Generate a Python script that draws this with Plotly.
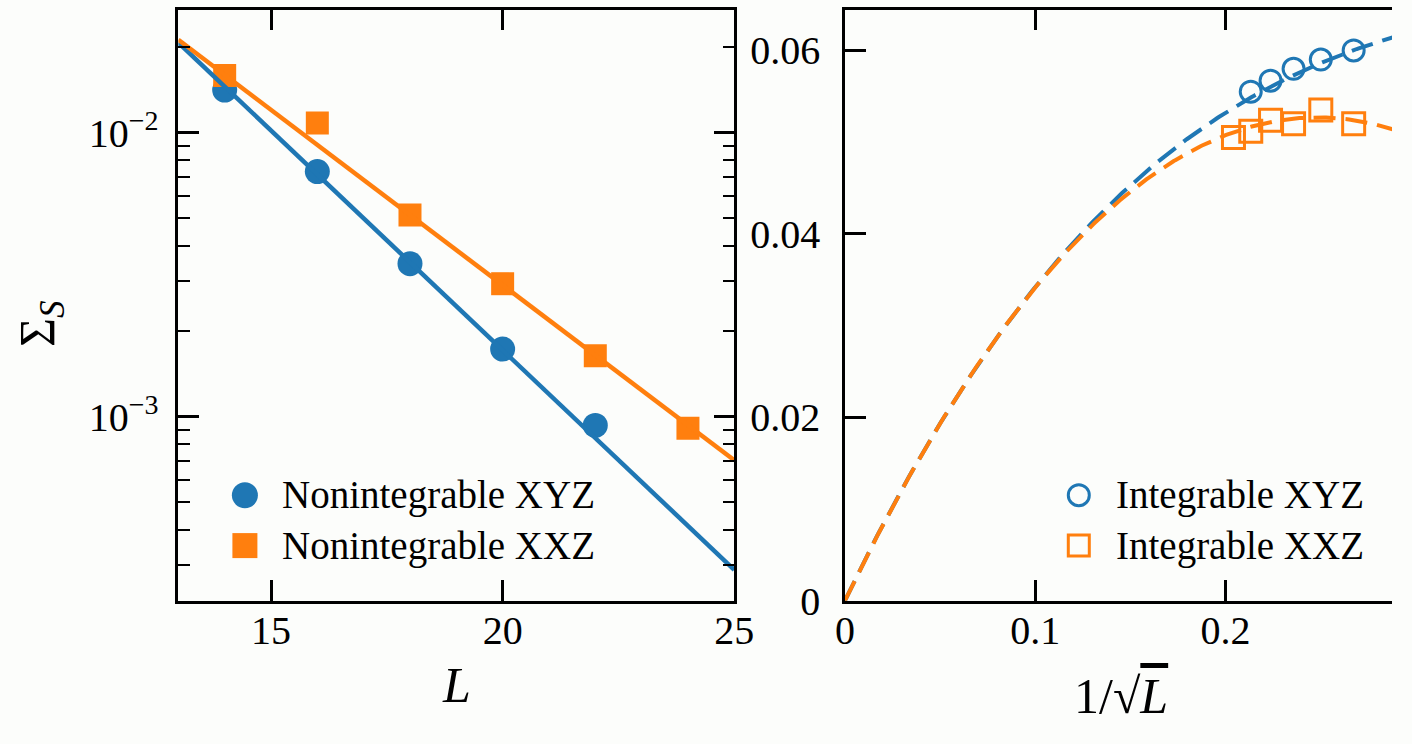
import numpy as np
import plotly.graph_objects as go

# ---- data -------------------------------------------------------------
L_xyz = [14, 16, 18, 20, 22]
L_xxz = [14, 16, 18, 20, 22, 24]

# Nonintegrable chains: Sigma_S vs L (log scale)
nonint_xyz = [0.01413, 0.00730, 0.00346, 0.00173, 0.000932]
nonint_xxz = [0.01590, 0.01082, 0.00513, 0.00294, 0.00164, 0.000910]

# Integrable chains: Sigma_S vs 1/sqrt(L)
int_xyz = [0.0600, 0.0590, 0.0580, 0.0567, 0.0555]
int_xxz = [0.0520, 0.0535, 0.0520, 0.0524, 0.0512, 0.0505]

# exponential fits: log10(Sigma_S) = c0 + c1 * L
fit_nonint_xyz = [0.3288, -0.15472]
fit_nonint_xxz = [-0.0678, -0.12343]

# polynomial fits through the origin: a*x + b*x^2 + c*x^3, x = 1/sqrt(L)
fit_int_xyz = [0.4352, -1.0175, 0.859]
fit_int_xxz = [0.4319, -0.9149, 0.1216]

x_ticks_left = [15, 20, 25]
y_ticks_left = [1e-3, 1e-2]
y_ticktext_left = ["10<sup>\u22123</sup>", "10<sup>\u22122</sup>"]
x_ticks_right = [0, 0.1, 0.2]
x_ticktext_right = ["0", "0.1", "0.2"]
y_ticks_right = [0, 0.02, 0.04, 0.06]
y_ticktext_right = ["0", "0.02", "0.04", "0.06"]

BLUE = "#1f77b4"
ORANGE = "#ff7f0e"
FONT = "Liberation Serif"
BG = "#fcfdfb"

W, H = 1412, 744
# plot areas in pixels (left, right, top, bottom); the right panel runs off the page edge
P1 = (172, 740, 10, 620)
P2 = (853, 1412, 10, 620)
PX_PER_X2 = 1945.0  # pixels per unit of 1/sqrt(L)

X2_MAX = (P2[1] - P2[0]) / PX_PER_X2
Y1_RANGE = [-3.6485, -1.5666]
Y2_RANGE = [0, 0.06444]


def xdom(p):
    return [p[0] / W, p[1] / W]


def ydom(p):
    return [(H - p[3]) / H, (H - p[2]) / H]


fig = go.Figure()

# ---- left panel ---------------------------------------------------------
L_line = np.linspace(13, 25, 60)
fig.add_trace(go.Scatter(x=L_xyz, y=nonint_xyz, mode="markers", xaxis="x", yaxis="y",
                         marker=dict(symbol="circle", size=25, color=BLUE), showlegend=False))
fig.add_trace(go.Scatter(x=L_xxz, y=nonint_xxz, mode="markers", xaxis="x", yaxis="y",
                         marker=dict(symbol="square", size=23, color=ORANGE), showlegend=False))
fig.add_trace(go.Scatter(x=L_line, y=10 ** (fit_nonint_xyz[0] + fit_nonint_xyz[1] * L_line),
                         mode="lines", xaxis="x", yaxis="y",
                         line=dict(color=BLUE, width=4.5), showlegend=False))
fig.add_trace(go.Scatter(x=L_line, y=10 ** (fit_nonint_xxz[0] + fit_nonint_xxz[1] * L_line),
                         mode="lines", xaxis="x", yaxis="y",
                         line=dict(color=ORANGE, width=4.5), showlegend=False))

# ---- right panel --------------------------------------------------------
u = np.linspace(0, 0.3, 300)


def poly(c, x):
    return c[0] * x + c[1] * x ** 2 + c[2] * x ** 3


dash = "22px,10px"
fig.add_trace(go.Scatter(x=1 / np.sqrt(L_xyz), y=int_xyz, mode="markers", xaxis="x2", yaxis="y2",
                         marker=dict(symbol="circle-open", size=21, color=BLUE, line=dict(width=3)),
                         showlegend=False))
fig.add_trace(go.Scatter(x=1 / np.sqrt(L_xxz), y=int_xxz, mode="markers", xaxis="x2", yaxis="y2",
                         marker=dict(symbol="square-open", size=22, color=ORANGE, line=dict(width=3)),
                         showlegend=False))
fig.add_trace(go.Scatter(x=u, y=poly(fit_int_xyz, u), mode="lines", xaxis="x2", yaxis="y2",
                         line=dict(color=BLUE, width=4, dash=dash), showlegend=False))
fig.add_trace(go.Scatter(x=u, y=poly(fit_int_xxz, u), mode="lines", xaxis="x2", yaxis="y2",
                         line=dict(color=ORANGE, width=4, dash=dash), showlegend=False))

# ---- axes ---------------------------------------------------------------
tickfont = dict(family=FONT, size=40, color="black")
common = dict(showline=True, linecolor="black", linewidth=2.5,
              ticks="inside", ticklen=21, tickwidth=2.5, tickcolor="black",
              showgrid=False, zeroline=False, tickfont=tickfont)

minor_vals = [k * 10.0 ** e for e in (-4, -3, -2) for k in range(2, 10)]

fig.update_layout(
    xaxis=dict(domain=xdom(P1), anchor="y", range=[13, 25], tickvals=x_ticks_left,
               ticklabelstandoff=-8, mirror="ticks", **common),
    yaxis=dict(domain=ydom(P1), anchor="x", type="log", range=Y1_RANGE,
               tickvals=y_ticks_left, ticktext=y_ticktext_left, ticklabelstandoff=9,
               mirror="ticks",
               minor=dict(tickvals=minor_vals, ticks="inside", ticklen=12, tickwidth=2,
                          tickcolor="black", showgrid=False),
               **common),
    xaxis2=dict(domain=xdom(P2), anchor="y2", range=[0, X2_MAX], tickvals=x_ticks_right,
                ticktext=x_ticktext_right, ticklabelstandoff=-8, mirror="ticks", **common),
    yaxis2=dict(domain=ydom(P2), anchor="x2", range=Y2_RANGE, tickvals=y_ticks_right,
                ticktext=y_ticktext_right, ticklabelstandoff=14, mirror=False, **common),
    # tick stubs along the right edge of the right panel (its frame lies past the page edge)
    yaxis3=dict(domain=ydom(P2), anchor="x2", overlaying="y2", side="right", range=Y2_RANGE,
                tickvals=y_ticks_right, showticklabels=False, showline=False, ticks="inside",
                ticklen=12, tickwidth=2.5, tickcolor="black", showgrid=False, zeroline=False),
)

# ---- axis titles --------------------------------------------------------
title_font = dict(family=FONT, size=50, color="black")
annotations = [
    dict(text="<i>L</i>", x=(P1[0] + P1[1]) / 2 / W, y=(H - 707) / H, xref="paper", yref="paper",
         showarrow=False, font=title_font, xanchor="center", yanchor="middle"),
    dict(text="1/\u221a<span style='text-decoration:overline'><i>L</i></span>",
         x=1135 / W, y=(H - 718) / H, xref="paper", yref="paper",
         showarrow=False, font=title_font, xanchor="center", yanchor="middle"),
    dict(text="\u03a3<sub><i>S</i></sub>", x=31 / W, y=(H - 334) / H, xref="paper", yref="paper",
         showarrow=False, font=title_font, xanchor="center", yanchor="middle", textangle=-90),
]

# ---- legends ------------------------------------------------------------
legend_font = dict(family=FONT, size=39, color="black")
shapes = []


def legend_entry(xr, yr, px_mark, px_text, py, x_left, width, label, kind, color, filled, r):
    fy = (620 - py) / (620 - 10)
    shapes.append(dict(type="circle" if kind == "circle" else "rect",
                       xref=xr, yref=yr, xsizemode="pixel", ysizemode="pixel",
                       xanchor=(px_mark - x_left) / width, yanchor=fy, x0=-r, x1=r, y0=-r, y1=r,
                       fillcolor=color if filled else "rgba(0,0,0,0)",
                       line=dict(color=color, width=0 if filled else 3)))
    annotations.append(dict(text=label, xref=xr, yref=yr, x=(px_text - x_left) / width, y=fy,
                            showarrow=False, xanchor="left", yanchor="middle", font=legend_font))


w1 = P1[1] - P1[0]
w2 = P2[1] - P2[0]
legend_entry("x domain", "y domain", 240, 276, 511, P1[0], w1,
             "Nonintegrable XYZ", "circle", BLUE, True, 13)
legend_entry("x domain", "y domain", 240, 276, 563, P1[0], w1,
             "Nonintegrable XXZ", "square", ORANGE, True, 12.5)
legend_entry("x2 domain", "y2 domain", 1092, 1128, 511, P2[0], w2,
             "Integrable XYZ", "circle", BLUE, False, 10.5)
legend_entry("x2 domain", "y2 domain", 1092, 1128, 563, P2[0], w2,
             "Integrable XXZ", "square", ORANGE, False, 10.5)

fig.update_layout(
    width=W, height=H, margin=dict(l=0, r=0, t=0, b=0),
    paper_bgcolor=BG, plot_bgcolor=BG,
    annotations=annotations, shapes=shapes, showlegend=False,
)

fig.write_html("out.html")
